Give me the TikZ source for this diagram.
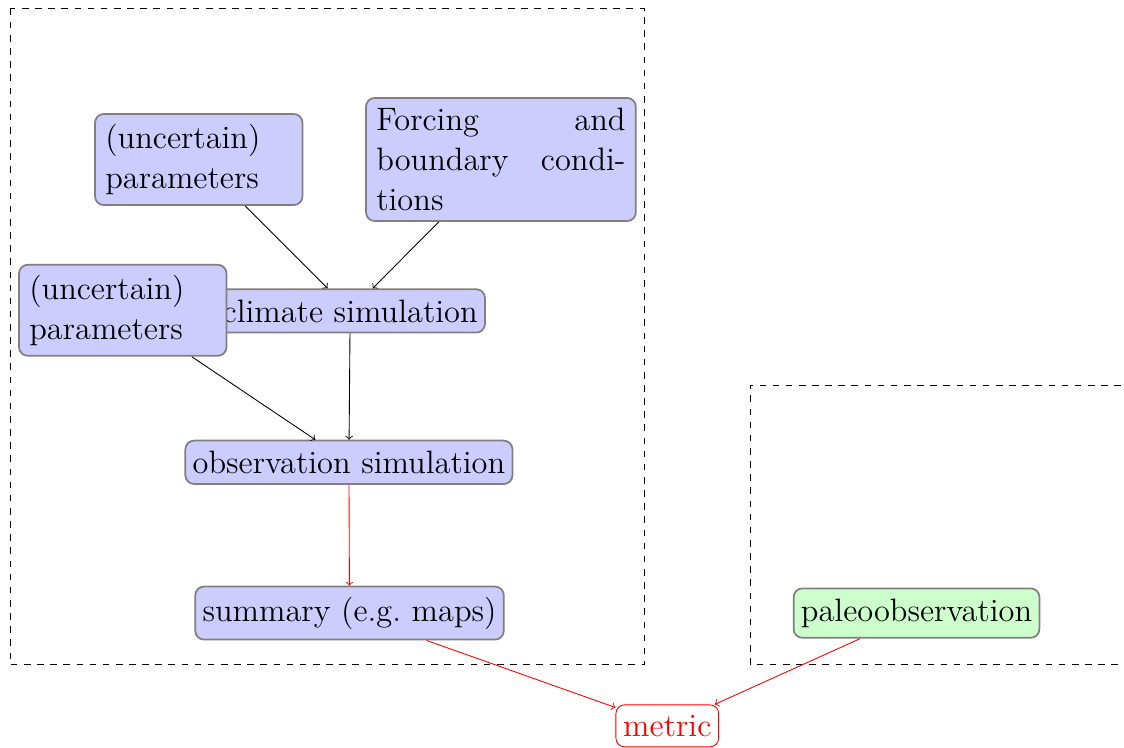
\documentclass[tikz,border=0pt]{standalone}
\usepackage{tikz}
\usetikzlibrary{arrows}
\newcommand{\boxfont}{\fontsize{14.8}{18.2}\selectfont}
\tikzstyle{model} = [rectangle, rounded corners, fill=blue!20, draw=gray, thick, font=\boxfont, inner ysep=4.7pt]
\tikzstyle{input} = [model, text width=3cm, align=justify, inner xsep=4.7pt]
\tikzstyle{paleo} = [model, fill=green!20]
\tikzstyle{score} = [rectangle, rounded corners, draw=red, text=red, fill=white, font=\boxfont, inner ysep=4.7pt]
\tikzstyle{region} = [dashed]
\tikzstyle{flow} = [->]
\tikzstyle{compare} = [->, red]

\begin{document}
\begin{tikzpicture}
\useasboundingbox (0,0) rectangle (18.04,-12.0);

\draw[region] (0.16,-0.14) rectangle (10.34,-10.67);
\draw[region] (18.2,-6.18) -- (12.04,-6.18) -- (12.04,-10.67) -- (18.2,-10.67);

\node (par1) [input] at (3.19,-2.56) {(uncertain) parameters};
\node (forcing) [input, text width=4cm] at (8.04,-2.56) {Forcing and boundary condi\-tions};
\node (clim) [model] at (5.62,-4.99) {climate simulation};
\node (par2) [input] at (1.97,-4.98) {(uncertain) parameters};
\node (obs) [model] at (5.60,-7.42) {observation simulation};
\node (summ) [model] at (5.61,-9.84) {summary (e.g.\ maps)};
\node (paleo) [paleo] at (14.71,-9.84) {paleoobservation};
\node (metric) [score] at (10.71,-11.65) {metric};

\draw[flow] (par1) -- (clim);
\draw[flow] (forcing) -- (clim);
\draw[flow] (par2) -- (obs);
\draw[flow] (clim) -- (obs);
\draw[compare] (obs) -- (summ);
\draw[compare] (summ) -- (metric);
\draw[compare] (paleo) -- (metric);
\end{tikzpicture}
\end{document}
